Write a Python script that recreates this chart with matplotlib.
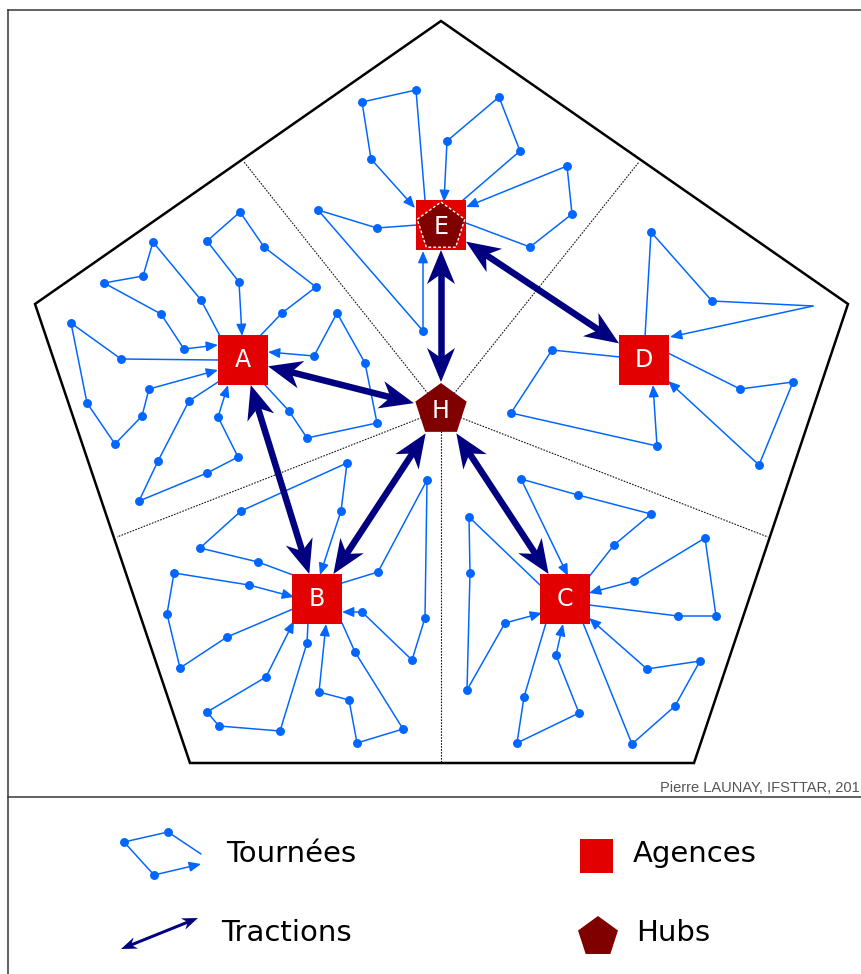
import numpy as np
import matplotlib.pyplot as plt
from matplotlib.patches import Polygon, Rectangle, FancyArrowPatch, ArrowStyle

# couleurs
BLEU = '#0066ff'
ROUGE = '#e30000'
BORDEAUX = '#800000'
MARINE = '#000080'
PX = 0.72  # 1 pixel en points (dpi 100)

# contour du territoire (pentagone) et limites des secteurs
contour_x = [441, 848, 694, 190, 35]
contour_y = [21, 304, 763, 763, 304]
secteurs_x = [244, 639, 768, 441, 117]
secteurs_y = [162, 162, 537, 763, 537]

# agences et hub
agences = {'A': (243, 360), 'B': (317, 599), 'C': (565, 599), 'D': (644, 360), 'E': (441, 225)}
hub = (441, 410)
tractions = [('A', 'H'), ('A', 'B'), ('H', 'B'), ('H', 'C'), ('H', 'E'), ('E', 'D')]

# tournees : depart -> clients -> retour
tours_A = [
    [(260, 336), (282, 313), (316, 287), (264, 247), (240, 212), (207, 241), (239, 282), (242, 336)],
    [(220, 336), (201, 300), (153, 242), (143, 276), (104, 283), (161, 314), (184, 349), (218, 345)],
    [(218, 360), (121, 359), (71, 323), (87, 403), (115, 444), (142, 416), (149, 389), (218, 370)],
    [(218, 382), (189, 401), (158, 461), (139, 501), (207, 473), (238, 457), (218, 417), (228, 385)],
    [(265, 385), (289, 411), (307, 438), (377, 423), (365, 363), (337, 313), (314, 356), (268, 352)],
]
tours_E = [
    [(425, 200), (416, 90), (362, 102), (371, 159), (415, 208)],
    [(462, 201), (520, 151), (499, 97), (447, 141), (444, 202)],
    [(466, 223), (530, 247), (572, 214), (567, 166), (466, 207)],
    [(417, 225), (377, 228), (318, 210), (423, 331), (423, 251)],
]
tours_D = [
    [(645, 337), (651, 232), (712, 301), (813, 306), (670, 337)],
    [(620, 357), (552, 350), (511, 413), (657, 446), (653, 385)],
    [(668, 353), (740, 389), (793, 382), (759, 465), (668, 381)],
]
tours_B = [
    [(293, 575), (258, 562), (200, 548), (241, 511), (347, 463), (341, 511), (320, 575)],
    [(293, 609), (227, 637), (180, 668), (167, 614), (174, 573), (249, 585), (294, 597)],
    [(308, 623), (307, 643), (280, 731), (219, 726), (207, 712), (266, 677), (294, 621)],
    [(342, 623), (355, 652), (403, 729), (357, 743), (349, 700), (319, 692), (326, 624)],
    [(342, 583), (378, 572), (427, 480), (425, 618), (412, 660), (362, 612), (342, 612)],
]
tours_C = [
    [(588, 578), (614, 545), (651, 514), (578, 495), (521, 479), (568, 576)],
    [(540, 585), (469, 517), (470, 573), (467, 690), (505, 623), (542, 613)],
    [(589, 605), (678, 616), (716, 616), (705, 538), (634, 581), (589, 593)],
    [(583, 623), (632, 744), (675, 706), (700, 661), (647, 669), (589, 618)],
    [(546, 623), (524, 697), (517, 743), (579, 713), (556, 655), (563, 624)],
]
sans_point = [(813, 306)]  # sommet sans client

legende_tour = [(201, 854), (168, 832), (124, 842), (154, 875), (201, 864)]
legende_traction = [(121, 949), (198, 918)]

W, H = 861, 974
fig = plt.figure(figsize=(W / 100, H / 100), dpi=100)
ax = fig.add_axes([0, 0, 1, 1])
ax.set_xlim(0, W)
ax.set_ylim(H, 0)
ax.axis('off')


def pentagone(c, r):
    a = np.deg2rad(-90 + 72 * np.arange(5))
    return np.column_stack([c[0] + r * np.cos(a), c[1] + r * np.sin(a)])


def tournee(pts, z=2):
    pts = np.array(pts, dtype=float)
    ax.plot(pts[:-1, 0], pts[:-1, 1], color=BLEU, lw=1.5 * PX, zorder=z, solid_capstyle='round')
    for p in pts[1:-1]:
        if tuple(p) not in sans_point:
            ax.plot(p[0], p[1], 'o', color=BLEU, ms=7.5 * PX, zorder=z)
    fl = FancyArrowPatch(pts[-2], pts[-1], arrowstyle=ArrowStyle('-|>', head_length=7, head_width=3),
                         mutation_scale=1, shrinkA=0, shrinkB=0, color=BLEU, lw=1.5 * PX, zorder=z)
    ax.add_patch(fl)


def tete(tip, u, L, larg, creux):
    n = np.array([-u[1], u[0]])
    return [tip, tip - L * u + larg / 2 * n, tip - (L - creux) * u, tip - L * u - larg / 2 * n]


def traction(p0, p1, s0, s1, lw=6.5, L=34, larg=28, creux=10, z=5):
    p0 = np.array(p0, dtype=float)
    p1 = np.array(p1, dtype=float)
    u = (p1 - p0) / np.linalg.norm(p1 - p0)
    t0 = p0 + s0 * u
    t1 = p1 - s1 * u
    a = t0 + (L - creux - 1) * u
    b = t1 - (L - creux - 1) * u
    ax.plot([a[0], b[0]], [a[1], b[1]], color=MARINE, lw=lw * PX, zorder=z, solid_capstyle='butt')
    ax.add_patch(Polygon(tete(t0, -u, L, larg, creux), closed=True, color=MARINE, lw=0, zorder=z))
    ax.add_patch(Polygon(tete(t1, u, L, larg, creux), closed=True, color=MARINE, lw=0, zorder=z))


def recul(nom, autre):
    # distance du centre au bord de la forme, dans la direction de l'autre noeud
    c = np.array(hub if nom == 'H' else agences[nom], dtype=float)
    o = np.array(hub if autre == 'H' else agences[autre], dtype=float)
    u = (o - c) / np.linalg.norm(o - c)
    if nom == 'H':
        return 28
    return 25 / max(abs(u[0]), abs(u[1]))


# cadre
ax.plot([8, W], [10, 10], color='#333333', lw=1.5 * PX, zorder=1)
ax.plot([8, 8], [10, H], color='#333333', lw=1.5 * PX, zorder=1)
ax.plot([8, W], [797, 797], color='#333333', lw=1.5 * PX, zorder=1)

# territoire
ax.add_patch(Polygon(np.column_stack([contour_x, contour_y]), closed=True, fill=False,
                     ec='black', lw=2.5 * PX, zorder=1))
for x, y in zip(secteurs_x, secteurs_y):
    ax.plot([hub[0], x], [hub[1], y], color='#111111', lw=1.1 * PX, ls=(0, (1.5, 1.2)), zorder=1)

# tournees
for tours in [tours_A, tours_B, tours_C, tours_D, tours_E]:
    for t in tours:
        tournee(t)

# agences
for nom, (x, y) in agences.items():
    ax.add_patch(Rectangle((x - 25, y - 25), 50, 50, color=ROUGE, lw=0, zorder=3))
    if nom != 'E':
        ax.text(x, y, nom, color='white', fontsize=17, ha='center', va='center', zorder=6)

# hub dans E et hub central
ex, ey = agences['E']
ax.add_patch(Polygon(pentagone((ex, ey + 2), 25), closed=True, fc=BORDEAUX, ec='white',
                     lw=1.4 * PX, ls=(0, (2, 1.5)), zorder=4))
ax.text(ex, ey + 2, 'E', color='white', fontsize=17, ha='center', va='center', zorder=6)
ax.add_patch(Polygon(pentagone(hub, 27), closed=True, fc=BORDEAUX, lw=0, zorder=4))
ax.text(hub[0], hub[1] + 1, 'H', color='white', fontsize=17, ha='center', va='center', zorder=6)

# tractions
for a, b in tractions:
    pa = hub if a == 'H' else agences[a]
    pb = hub if b == 'H' else agences[b]
    traction(pa, pb, recul(a, b), recul(b, a))

# credit
ax.text(860, 792, 'Pierre LAUNAY, IFSTTAR, 201', fontsize=10.5, family='Liberation Sans',
        color='#555555', ha='right', va='baseline')

# legende
tournee(legende_tour)
ax.text(226, 862, 'Tournées', fontsize=21, ha='left', va='baseline')
ax.add_patch(Rectangle((580, 839), 33, 34, color=ROUGE, lw=0))
ax.text(633, 862, 'Agences', fontsize=21, ha='left', va='baseline')
traction(legende_traction[0], legende_traction[1], 0, 0, lw=3, L=16, larg=12, creux=5)
ax.text(221, 941, 'Tractions', fontsize=21, ha='left', va='baseline')
ax.add_patch(Polygon(pentagone((598, 937), 21), closed=True, fc=BORDEAUX, lw=0))
ax.text(636, 941, 'Hubs', fontsize=21, ha='left', va='baseline')

fig.savefig('out.png', dpi=100)
